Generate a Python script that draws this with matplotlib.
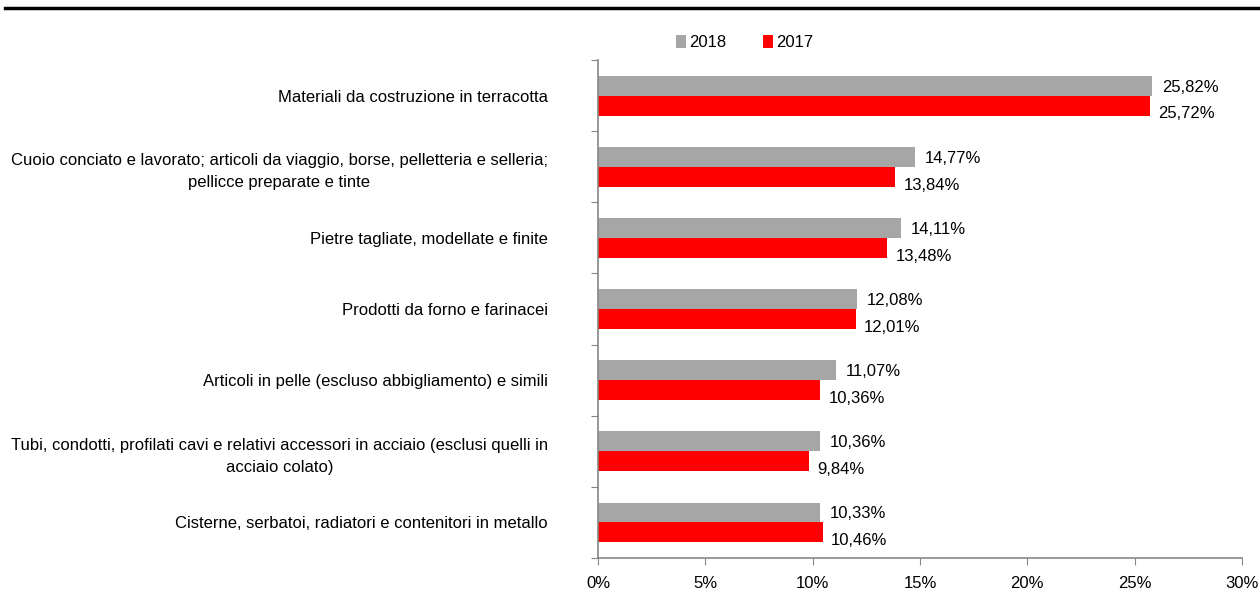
import matplotlib
matplotlib.use("Agg")
import matplotlib.pyplot as plt
from matplotlib.lines import Line2D
from matplotlib.ticker import FuncFormatter

plt.rcParams['font.family'] = ['Liberation Sans Narrow', 'Liberation Sans', 'DejaVu Sans']

categories = [
    "Materiali da costruzione in terracotta",
    "Cuoio conciato e lavorato; articoli da viaggio, borse, pelletteria e selleria;\npellicce preparate e tinte",
    "Pietre tagliate, modellate e finite",
    "Prodotti da forno e farinacei",
    "Articoli in pelle (escluso abbigliamento) e simili",
    "Tubi, condotti, profilati cavi e relativi accessori in acciaio (esclusi quelli in\nacciaio colato)",
    "Cisterne, serbatoi, radiatori e contenitori in metallo",
]
vals_2018 = [25.82, 14.77, 14.11, 12.08, 11.07, 10.36, 10.33]
vals_2017 = [25.72, 13.84, 13.48, 12.01, 10.36, 9.84, 10.46]

col_2018 = "#A6A6A6"
col_2017 = "#FF0000"
axis_col = "#868686"

fig = plt.figure(figsize=(12.6, 6.05), dpi=100)
ax = fig.add_axes([0.4746, 0.0777, 0.5111, 0.8231])

n = len(categories)
y = list(range(n))
h = 0.28
y18 = [i - h / 2 for i in y]
y17 = [i + h / 2 for i in y]

ax.barh(y18, vals_2018, height=h, color=col_2018, label="2018")
ax.barh(y17, vals_2017, height=h, color=col_2017, label="2017")

def fmt(v):
    return f"{v:.2f}%".replace(".", ",")

for yy, v in zip(y18, vals_2018):
    ax.annotate(fmt(v), (v, yy), xytext=(7, -1), textcoords="offset points",
                ha="left", va="center", fontsize=12)
for yy, v in zip(y17, vals_2017):
    ax.annotate(fmt(v), (v, yy), xytext=(6, -6), textcoords="offset points",
                ha="left", va="center", fontsize=12)

ax.set_xlim(0, 30)
ax.set_ylim(n - 0.5, -0.5)
ax.set_xticks([0, 5, 10, 15, 20, 25, 30])
ax.xaxis.set_major_formatter(FuncFormatter(lambda v, p: f"{int(v)}%"))
ax.set_yticks([i - 0.5 for i in range(n + 1)], minor=False)
ax.set_yticklabels([])
ax.set_yticks(y, minor=True)
ax.set_yticklabels(categories, minor=True, fontsize=12, multialignment="center",
                   linespacing=1.6)
ax.tick_params(axis="y", which="minor", length=0, pad=36)
ax.tick_params(axis="y", which="major", length=5, color=axis_col, direction="out")
ax.tick_params(axis="x", length=5, color=axis_col, labelsize=12, pad=8)

for s in ["top", "right"]:
    ax.spines[s].set_visible(False)
for s in ["left", "bottom"]:
    ax.spines[s].set_color(axis_col)
    ax.spines[s].set_linewidth(1.2)

ax.legend(loc="center", bbox_to_anchor=(0.591, 0.93), bbox_transform=fig.transFigure,
          ncol=2, frameon=False, fontsize=12, handlelength=0.6, handleheight=0.9,
          handletextpad=0.2, columnspacing=2.2)

fig.add_artist(Line2D([0.004, 1.0], [0.986, 0.986], transform=fig.transFigure,
                      color="black", linewidth=2.5))

fig.savefig("out.png", dpi=100)
